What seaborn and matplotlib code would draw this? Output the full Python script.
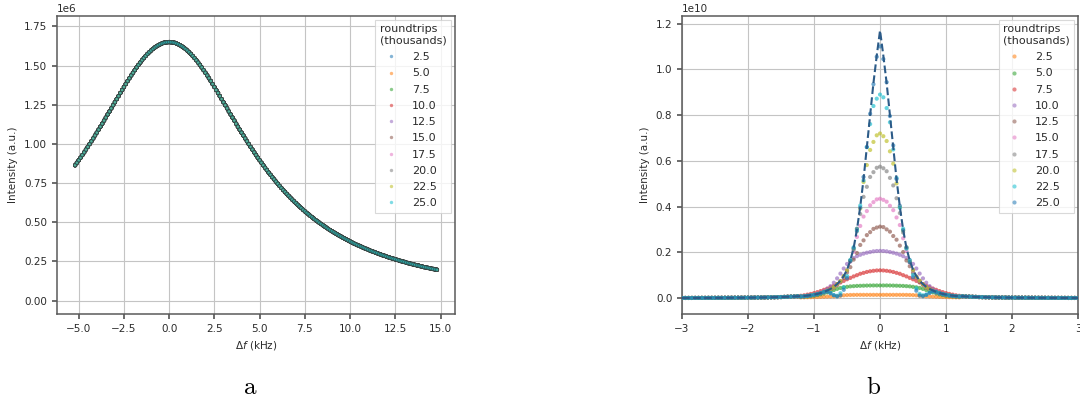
import numpy as np
import pandas as pd
import matplotlib
matplotlib.use("Agg")
import matplotlib.pyplot as plt
import seaborn as sns

# ---------------------------------------------------------------- data
roundtrips = ["2.5", "5.0", "7.5", "10.0", "12.5",
              "15.0", "17.5", "20.0", "22.5", "25.0"]

# (a) steady-state spectrum, identical for every roundtrip count (units of 1e6)
freq_a = np.round(np.linspace(-5.2, 14.8, 201), 2)
intensity_a = [
    # -5.2 ... -0.1
    0.864, 0.880, 0.896, 0.912, 0.929, 0.946, 0.964, 0.981, 0.999, 1.017,
    1.035, 1.054, 1.072, 1.091, 1.110, 1.129, 1.149, 1.168, 1.188, 1.207,
    1.227, 1.247, 1.266, 1.286, 1.305, 1.325, 1.344, 1.363, 1.382, 1.401,
    1.419, 1.437, 1.454, 1.471, 1.488, 1.504, 1.519, 1.534, 1.548, 1.561,
    1.574, 1.585, 1.596, 1.606, 1.615, 1.623, 1.630, 1.636, 1.641, 1.645,
    1.648, 1.649,
    # 0.0
    1.650,
    # 0.1 ... 5.2
    1.649, 1.648, 1.645, 1.641, 1.636, 1.630, 1.623, 1.615, 1.606, 1.596,
    1.585, 1.574, 1.561, 1.548, 1.534, 1.519, 1.504, 1.488, 1.471, 1.454,
    1.437, 1.419, 1.401, 1.382, 1.363, 1.344, 1.325, 1.305, 1.286, 1.266,
    1.247, 1.227, 1.207, 1.188, 1.168, 1.149, 1.129, 1.110, 1.091, 1.072,
    1.054, 1.035, 1.017, 0.999, 0.981, 0.964, 0.946, 0.929, 0.912, 0.896,
    0.880, 0.864,
    # 5.3 ... 14.8
    0.848, 0.833, 0.817, 0.803, 0.788, 0.774, 0.760, 0.746, 0.732, 0.719,
    0.706, 0.694, 0.681, 0.669, 0.657, 0.645, 0.634, 0.623, 0.612, 0.601,
    0.591, 0.580, 0.570, 0.560, 0.551, 0.541, 0.532, 0.523, 0.514, 0.506,
    0.497, 0.489, 0.481, 0.473, 0.465, 0.457, 0.450, 0.443, 0.436, 0.429,
    0.422, 0.415, 0.409, 0.402, 0.396, 0.390, 0.384, 0.378, 0.372, 0.366,
    0.361, 0.355, 0.350, 0.345, 0.340, 0.335, 0.330, 0.325, 0.320, 0.316,
    0.311, 0.307, 0.303, 0.298, 0.294, 0.290, 0.286, 0.282, 0.278, 0.274,
    0.271, 0.267, 0.264, 0.260, 0.257, 0.253, 0.250, 0.247, 0.243, 0.240,
    0.237, 0.234, 0.231, 0.228, 0.225, 0.223, 0.220, 0.217, 0.214, 0.212,
    0.209, 0.207, 0.204, 0.202, 0.199, 0.197,
]
assert len(intensity_a) == len(freq_a)

# (b) spectra for growing roundtrip counts (units of 1e10)
freq_b_left = np.round(np.linspace(-3.0, -1.25, 36), 2)
freq_b_core = np.round(np.linspace(-1.2, 1.2, 49), 2)
freq_b_right = np.round(np.linspace(1.25, 3.0, 36), 2)

tail_left_b = [
    0.0013, 0.0014, 0.0014, 0.0014, 0.0015, 0.0015, 0.0016, 0.0016, 0.0017,
    0.0017, 0.0018, 0.0019, 0.0019, 0.0020, 0.0021, 0.0022, 0.0023, 0.0024,
    0.0025, 0.0026, 0.0028, 0.0029, 0.0031, 0.0033, 0.0035, 0.0037, 0.0040,
    0.0043, 0.0046, 0.0050, 0.0054, 0.0059, 0.0065, 0.0072, 0.0079, 0.0088,
]
tail_right_b = [
    0.0088, 0.0079, 0.0072, 0.0065, 0.0059, 0.0054, 0.0050, 0.0046, 0.0043,
    0.0040, 0.0037, 0.0035, 0.0033, 0.0031, 0.0029, 0.0028, 0.0026, 0.0025,
    0.0024, 0.0023, 0.0022, 0.0021, 0.0020, 0.0019, 0.0019, 0.0018, 0.0017,
    0.0017, 0.0016, 0.0016, 0.0015, 0.0015, 0.0014, 0.0014, 0.0014, 0.0013,
]

core_2_5 = [
    0.0040, 0.0043, 0.0046, 0.0049, 0.0053, 0.0057, 0.0061, 0.0066, 0.0072, 0.0078, 0.0085, 0.0095,
    0.011, 0.013, 0.014, 0.0145, 0.0148, 0.015, 0.015, 0.015, 0.015, 0.015, 0.015, 0.015,
    0.015,
    0.015, 0.015, 0.015, 0.015, 0.015, 0.015, 0.015, 0.0148, 0.0145, 0.014, 0.013, 0.011,
    0.0095, 0.0085, 0.0078, 0.0072, 0.0066, 0.0061, 0.0057, 0.0053, 0.0049, 0.0046, 0.0043, 0.0040,
]
core_5_0 = [
    0.0063, 0.0072, 0.0083, 0.0097, 0.0115, 0.014, 0.017, 0.021, 0.026, 0.031, 0.036, 0.041,
    0.045, 0.048, 0.050, 0.052, 0.053, 0.054, 0.0545, 0.055, 0.0555, 0.0558, 0.056, 0.056,
    0.056,
    0.056, 0.056, 0.0558, 0.0555, 0.055, 0.0545, 0.054, 0.053, 0.052, 0.050, 0.048, 0.045,
    0.041, 0.036, 0.031, 0.026, 0.021, 0.017, 0.014, 0.0115, 0.0097, 0.0083, 0.0072, 0.0063,
]
core_7_5 = [
    0.011, 0.013, 0.016, 0.019, 0.0226, 0.027, 0.0315, 0.037, 0.0425, 0.0485, 0.055, 0.062,
    0.069, 0.076, 0.083, 0.089, 0.0955, 0.101, 0.107, 0.111, 0.115, 0.118, 0.120, 0.1215,
    0.122,
    0.1215, 0.120, 0.118, 0.115, 0.111, 0.107, 0.101, 0.0955, 0.089, 0.083, 0.076, 0.069,
    0.062, 0.055, 0.0485, 0.0425, 0.037, 0.0315, 0.027, 0.0226, 0.019, 0.016, 0.013, 0.011,
]
core_10_0 = [
    0.0082, 0.0095, 0.011, 0.013, 0.016, 0.020, 0.025, 0.032, 0.041, 0.053, 0.068, 0.087,
    0.108, 0.130, 0.150, 0.166, 0.176, 0.184, 0.190, 0.195, 0.199, 0.202, 0.205, 0.2065,
    0.207,
    0.2065, 0.205, 0.202, 0.199, 0.195, 0.190, 0.184, 0.176, 0.166, 0.150, 0.130, 0.108,
    0.087, 0.068, 0.053, 0.041, 0.032, 0.025, 0.020, 0.016, 0.013, 0.011, 0.0095, 0.0082,
]
core_12_5 = [
    0.0072, 0.0085, 0.010, 0.012, 0.014, 0.017, 0.021, 0.026, 0.031, 0.039, 0.047, 0.057,
    0.073, 0.089, 0.113, 0.136, 0.169, 0.198, 0.233, 0.253, 0.276, 0.289, 0.303, 0.309,
    0.313,
    0.311, 0.301, 0.291, 0.272, 0.256, 0.230, 0.202, 0.165, 0.140, 0.111, 0.091, 0.071,
    0.059, 0.046, 0.038, 0.031, 0.025, 0.021, 0.017, 0.014, 0.012, 0.010, 0.0085, 0.0072,
]
core_15_0 = [
    0.0078, 0.009, 0.0105, 0.0125, 0.015, 0.018, 0.022, 0.026, 0.032, 0.039, 0.048, 0.060,
    0.073, 0.095, 0.120, 0.160, 0.203, 0.268, 0.316, 0.357, 0.381, 0.406, 0.420, 0.432,
    0.435,
    0.430, 0.422, 0.404, 0.385, 0.353, 0.320, 0.262, 0.207, 0.156, 0.122, 0.093, 0.075,
    0.058, 0.048, 0.039, 0.032, 0.026, 0.022, 0.018, 0.015, 0.0125, 0.0105, 0.009, 0.0078,
]
core_17_5 = [
    0.0078, 0.009, 0.0105, 0.0125, 0.015, 0.018, 0.022, 0.027, 0.033, 0.040, 0.049, 0.061,
    0.074, 0.096, 0.121, 0.162, 0.212, 0.293, 0.368, 0.443, 0.487, 0.530, 0.551, 0.570,
    0.575,
    0.568, 0.555, 0.526, 0.493, 0.437, 0.372, 0.287, 0.218, 0.158, 0.123, 0.094, 0.076,
    0.060, 0.049, 0.040, 0.033, 0.027, 0.022, 0.018, 0.015, 0.0125, 0.0105, 0.009, 0.0078,
]
core_20_0 = [
    0.0078, 0.009, 0.0105, 0.0125, 0.015, 0.018, 0.022, 0.027, 0.033, 0.040, 0.049, 0.062,
    0.075, 0.097, 0.122, 0.165, 0.218, 0.303, 0.392, 0.508, 0.582, 0.648, 0.683, 0.712,
    0.720,
    0.708, 0.687, 0.642, 0.588, 0.502, 0.398, 0.297, 0.222, 0.161, 0.124, 0.095, 0.077,
    0.061, 0.049, 0.040, 0.033, 0.027, 0.022, 0.018, 0.015, 0.0125, 0.0105, 0.009, 0.0078,
]
core_22_5 = [
    0.0078, 0.009, 0.0105, 0.0125, 0.015, 0.018, 0.022, 0.027, 0.032, 0.024, 0.014, 0.011,
    0.022, 0.048, 0.097, 0.168, 0.223, 0.296, 0.405, 0.515, 0.660, 0.761, 0.840, 0.872,
    0.890,
    0.878, 0.831, 0.769, 0.650, 0.526, 0.395, 0.304, 0.217, 0.167, 0.102, 0.043, 0.019,
    0.013, 0.016, 0.026, 0.030, 0.027, 0.022, 0.018, 0.015, 0.0125, 0.0105, 0.009, 0.0078,
]
core_25_0 = [
    0.0078, 0.009, 0.0105, 0.0125, 0.015, 0.018, 0.022, 0.027, 0.029, 0.021, 0.013, 0.008,
    0.013, 0.037, 0.088, 0.163, 0.218, 0.304, 0.396, 0.530, 0.661, 0.806, 0.935, 1.055,
    1.100,
    1.045, 0.944, 0.796, 0.668, 0.521, 0.404, 0.297, 0.223, 0.158, 0.092, 0.033, 0.012,
    0.009, 0.015, 0.023, 0.031, 0.027, 0.022, 0.018, 0.015, 0.0125, 0.0105, 0.009, 0.0078,
]
fit_core_b = [
    0.009, 0.010, 0.0115, 0.0135, 0.016, 0.019, 0.023, 0.028, 0.034, 0.041, 0.050, 0.062,
    0.077, 0.097, 0.125, 0.165, 0.22, 0.30, 0.40, 0.52, 0.66, 0.80, 0.94, 1.06,
    1.17,
    1.06, 0.94, 0.80, 0.66, 0.52, 0.40, 0.30, 0.22, 0.165, 0.125, 0.097, 0.077,
    0.062, 0.050, 0.041, 0.034, 0.028, 0.023, 0.019, 0.016, 0.0135, 0.0115, 0.010, 0.009,
]

core_b = [core_2_5, core_5_0, core_7_5, core_10_0, core_12_5,
          core_15_0, core_17_5, core_20_0, core_22_5, core_25_0]
for c in core_b + [fit_core_b]:
    assert len(c) == len(freq_b_core)

# ------------------------------------------------------------- frames
freq_b = np.concatenate([freq_b_left, freq_b_core, freq_b_right])

df_a = pd.concat(
    [pd.DataFrame({"freq": freq_a,
                   "intensity": np.array(intensity_a) * 1e6,
                   "roundtrips": lab}) for lab in roundtrips],
    ignore_index=True)

df_b = pd.concat(
    [pd.DataFrame({"freq": freq_b,
                   "intensity": np.array(tail_left_b + core + tail_right_b) * 1e10,
                   "roundtrips": lab}) for lab, core in zip(roundtrips, core_b)],
    ignore_index=True)
fit_b = np.array(tail_left_b + fit_core_b + tail_right_b) * 1e10

# ---------------------------------------------------------------- style
text_col = "#2b2b2b"
sns.set_theme(style="ticks", rc={
    "axes.grid": True,
    "grid.color": "#c4c4c4",
    "grid.linewidth": 0.8,
    "axes.edgecolor": "#5a5a5a",
    "axes.linewidth": 1.1,
    "xtick.color": "#5a5a5a",
    "ytick.color": "#5a5a5a",
    "xtick.labelcolor": text_col,
    "ytick.labelcolor": text_col,
    "xtick.labelsize": 7.5,
    "ytick.labelsize": 7.5,
    "axes.labelsize": 7.5,
    "axes.labelcolor": text_col,
    "text.color": text_col,
    "xtick.major.size": 3.5,
    "ytick.major.size": 3.5,
})
plt.rcParams["font.family"] = ["DejaVu Sans"]

tab = sns.color_palette("tab10")
pal_a = list(tab)
pal_b = list(tab[1:]) + [tab[0]]

fig = plt.figure(figsize=(10.8, 4.01), dpi=100)
ax_a = fig.add_axes([0.0528, 0.217, 0.3685, 0.743])
ax_b = fig.add_axes([0.6315, 0.217, 0.3667, 0.743])

sns.scatterplot(data=df_a, x="freq", y="intensity", hue="roundtrips",
                hue_order=roundtrips, palette=pal_a, s=6, alpha=0.6,
                edgecolor="#343a3a", linewidth=0.6, ax=ax_a)
sns.scatterplot(data=df_b, x="freq", y="intensity", hue="roundtrips",
                hue_order=roundtrips, palette=pal_b, s=9, alpha=0.65,
                linewidth=0, ax=ax_b, zorder=3)
sns.lineplot(x=freq_b, y=fit_b, ax=ax_b, color="#2c5b88", linestyle="--",
             linewidth=1.5, zorder=4, legend=False)

ax_a.set_xlim(-6.2, 15.8)
ax_a.set_ylim(-0.085e6, 1.816e6)
ax_b.set_xlim(-3, 3)
ax_b.set_ylim(-0.0686e10, 1.233e10)

for ax in (ax_a, ax_b):
    ax.set_xlabel(r"$\Delta f$ (kHz)")
    ax.set_ylabel("Intensity (a.u.)")
    ax.yaxis.get_offset_text().set_fontsize(7.5)
    ax.yaxis.get_offset_text().set_color(text_col)
    ax.set_axisbelow(True)
    handles, labels = ax.get_legend_handles_labels()
    leg = ax.legend(handles, labels, title="roundtrips\n(thousands)",
                    loc="upper right", fontsize=8, title_fontsize=8,
                    frameon=True, framealpha=0.8, edgecolor="#d0d0d0",
                    fancybox=False, alignment="left", labelspacing=0.56,
                    borderaxespad=0.35, handletextpad=0.9)
    leg.get_frame().set_linewidth(0.8)
    for h in leg.legend_handles:
        h.set_alpha(0.55)
        if hasattr(h, "set_markeredgewidth"):
            h.set_markeredgewidth(0)

fig.text(250 / 1080, 1 - 388 / 401, "a", family="cmr10", fontsize=18,
         ha="center", va="center", color="black")
fig.text(873 / 1080, 1 - 388 / 401, "b", family="cmr10", fontsize=18,
         ha="center", va="center", color="black")

fig.savefig("out.png", dpi=100)
